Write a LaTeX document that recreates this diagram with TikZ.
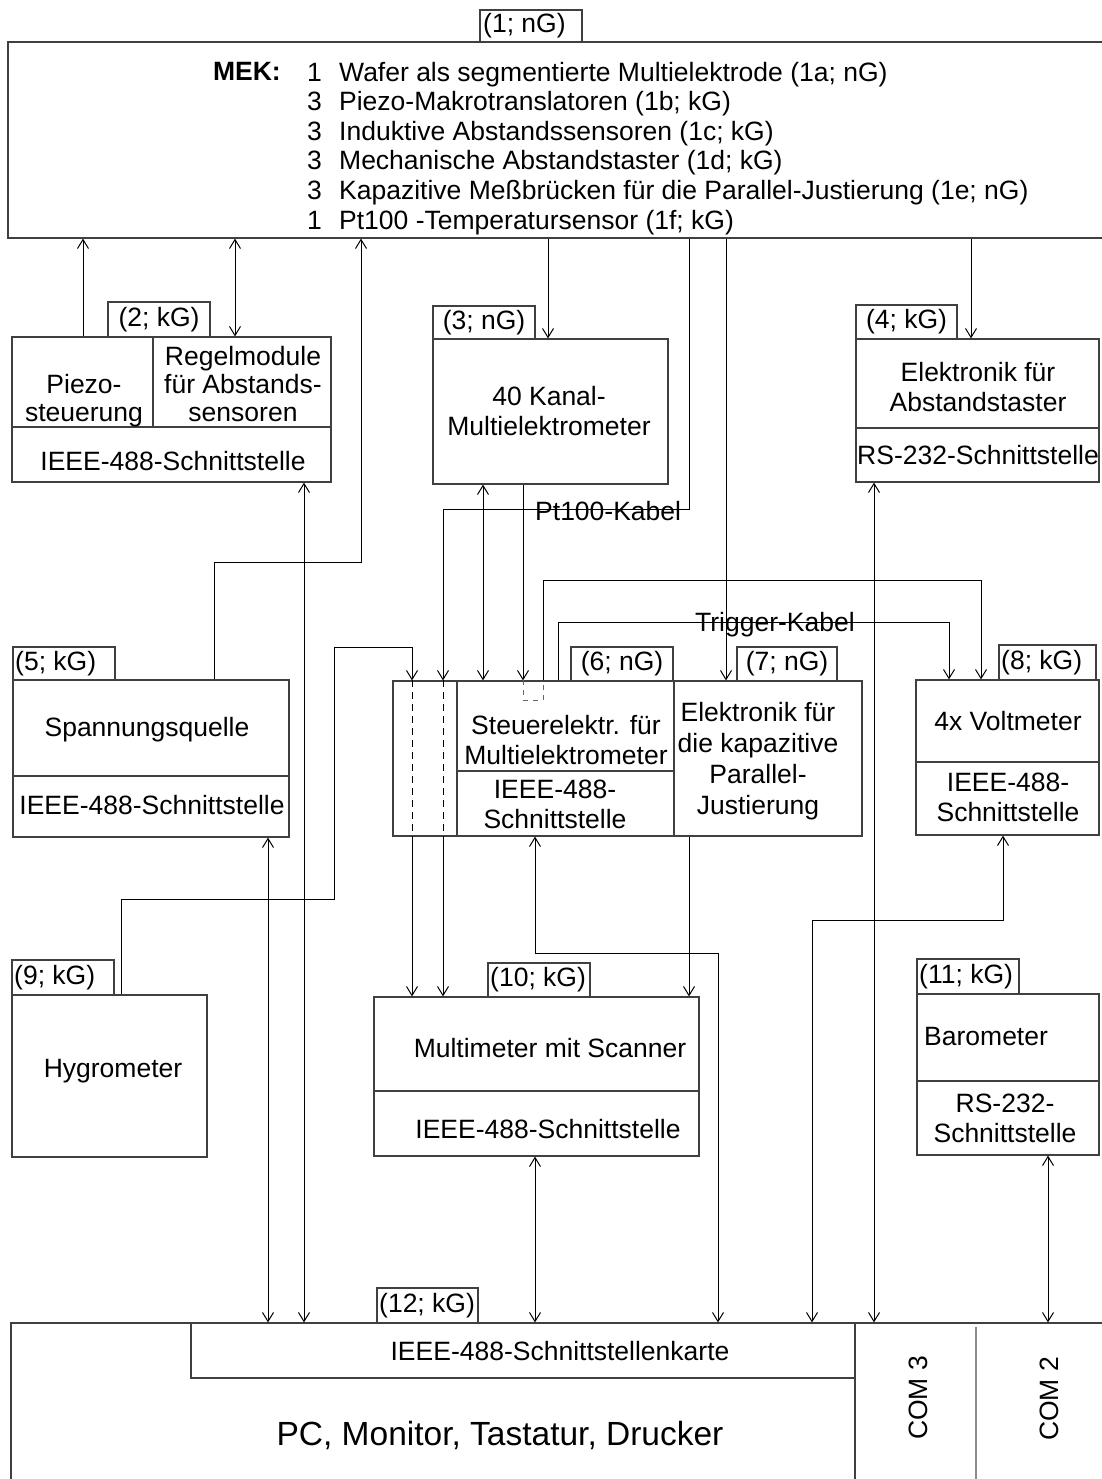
\documentclass[tikz,border=0pt]{standalone}
\usepackage{fontspec}
\setmainfont{Liberation Sans}
\usetikzlibrary{arrows.meta,fit}
\newcommand\fsz[1]{\fontsize{26.5}{#1}\selectfont}
\tikzset{
  boxst/.style={draw=black!75, line width=1.2pt, inner sep=0pt},
  txt/.style={font=\fsz{30}, inner sep=0pt},
  con/.style={line width=1pt, black},
  arr/.style={con, -{Straight Barb[length=9pt,width=11pt,line width=1pt]}},
  darr/.style={con, {Straight Barb[length=9pt,width=11pt,line width=1pt]}-{Straight Barb[length=9pt,width=11pt,line width=1pt]}},
  dsh/.style={con, dash pattern=on 7pt off 5pt},
  dshs/.style={line width=0.8pt, black!60, dash pattern=on 5pt off 5pt},
}
\begin{document}
\begin{tikzpicture}[x=1pt,y=-1pt]
\useasboundingbox (0,0) rectangle (1101,1479);

% ---------- boxes ----------
\node[boxst, fit={(8,42)(1103,238)}] (mek) {};
\node[boxst, fit={(480,10)(582,42)}] (lab1) {};
\node[boxst, fit={(12,337)(331,482)}] (b2) {};
\node[boxst, fit={(108,302)(210,337)}] (lab2) {};
\node[boxst, fit={(433,339)(668,484)}] (b3) {};
\node[boxst, fit={(433,306)(535,339)}] (lab3) {};
\node[boxst, fit={(856,339)(1099,482)}] (b4) {};
\node[boxst, fit={(856,305)(957,339)}] (lab4) {};
\node[boxst, fit={(13,680)(289,837)}] (b5) {};
\node[boxst, fit={(13,647)(115,680)}] (lab5) {};
\node[boxst, fit={(393,681)(862,836)}] (b6) {};
\node[boxst, fit={(571,647)(673,681)}] (lab6) {};
\node[boxst, fit={(737,647)(837,681)}] (lab7) {};
\node[boxst, fit={(916,680)(1099,835)}] (b8) {};
\node[boxst, fit={(999,645)(1096,680)}] (lab8) {};
\node[boxst, fit={(12,995)(207,1157)}] (b9) {};
\node[boxst, fit={(12,960)(114,995)}] (lab9) {};
\node[boxst, fit={(374,997)(699,1156)}] (b10) {};
\node[boxst, fit={(488,963)(590,997)}] (lab10) {};
\node[boxst, fit={(917,994)(1099,1155)}] (b11) {};
\node[boxst, fit={(917,959)(1019,994)}] (lab11) {};
\node[boxst, fit={(11,1323)(1103,1500)}] (pc) {};
\node[boxst, fit={(191,1323)(855,1378)}] (card) {};
\node[boxst, fit={(377,1288)(478,1323)}] (lab12) {};

% dividers
\draw[boxst] (153,337) -- (153,427);
\draw[boxst] (12,427) -- (331,427);
\draw[boxst] (856,428) -- (1099,428);
\draw[boxst] (13,776) -- (289,776);
\draw[boxst] (457,681) -- (457,836);
\draw[boxst] (674,681) -- (674,836);
\draw[boxst] (457,771) -- (674,771);
\draw[boxst] (916,762) -- (1099,762);
\draw[boxst] (374,1091) -- (699,1091);
\draw[boxst] (917,1081) -- (1099,1081);
\draw[boxst] (855,1378) -- (855,1500);
\draw[line width=1.2pt, black!45] (976,1327) -- (976,1500);

% ---------- labels ----------
\node[txt, anchor=base west] (lab1t) at (483,33) {(1; nG)};
\node[txt, anchor=base] (lab2t) at (159,326.4) {(2; kG)};
\node[txt, anchor=base] (lab3t) at (484,329.4) {(3; nG)};
\node[txt, anchor=base] (lab4t) at (906.5,328.9) {(4; kG)};
\node[txt, anchor=base west] (lab5t) at (15,670.4) {(5; kG)};
\node[txt, anchor=base] (lab6t) at (622,670.9) {(6; nG)};
\node[txt, anchor=base] (lab7t) at (787,670.9) {(7; nG)};
\node[txt, anchor=base west] (lab8t) at (1001,669.4) {(8; kG)};
\node[txt, anchor=base west] (lab9t) at (14,984.4) {(9; kG)};
\node[txt, anchor=base west] (lab10t) at (490,986.9) {(10; kG)};
\node[txt, anchor=base west] (lab11t) at (919,983.4) {(11; kG)};
\node[txt, anchor=base west] (lab12t) at (379,1312.4) {(12; kG)};

% ---------- texts ----------
\node[txt, anchor=base east, font=\fsz{30}\bfseries] (mekl) at (281,81) {MEK:};
\node[txt, anchor=north west, align=left, font=\fsz{29.6}] (mekt) at (307,60.28)
 {\strut\makebox[32pt][l]{1}Wafer als segmentierte Multielektrode (1a; nG)\\
  \strut\makebox[32pt][l]{3}Piezo-Makrotranslatoren (1b; kG)\\
  \strut\makebox[32pt][l]{3}Induktive Abstandssensoren (1c; kG)\\
  \strut\makebox[32pt][l]{3}Mechanische Abstandstaster (1d; kG)\\
  \strut\makebox[32pt][l]{3}Kapazitive Meßbrücken für die Parallel-Justierung (1e; nG)\\
  \strut\makebox[32pt][l]{1}Pt100 -Temperatursensor (1f; kG)};

\node[txt, anchor=north, align=center, font=\fsz{28}] (t2a) at (84,373.4) {\strut Piezo-\\\strut steuerung};
\node[txt, anchor=north, align=center, font=\fsz{28}] (t2b) at (243,345.4) {\strut Regelmodule\\\strut für Abstands-\\\strut sensoren};
\node[txt, anchor=base] (t2c) at (173,470) {IEEE-488-Schnittstelle};

\node[txt, anchor=north, align=center, font=\fsz{30}] (t3) at (549,384) {\strut 40 Kanal-\\\strut Multielektrometer};

\node[txt, anchor=north, align=center, font=\fsz{30}] (t4a) at (978,360) {\strut Elektronik für\\\strut Abstandstaster};
\node[txt, anchor=base] (t4b) at (978,464) {RS-232-Schnittstelle};

\node[txt, anchor=base] (t5a) at (147,736) {Spannungsquelle};
\node[txt, anchor=base] (t5b) at (152,814) {IEEE-488-Schnittstelle};

\node[txt, anchor=north, align=center, font=\fsz{30}] (t6a) at (566,713) {\strut Steuerelektr. für\\\strut Multielektrometer};
\node[txt, anchor=north, align=center, font=\fsz{30}] (t6b) at (555,777) {\strut IEEE-488-\\\strut Schnittstelle};
\node[txt, anchor=north, align=center, font=\fsz{31}] (t7) at (758,699.3) {\strut Elektronik für\\\strut die kapazitive\\\strut Parallel-\\\strut Justierung};

\node[txt, anchor=base] (t8a) at (1008,730) {4x Voltmeter};
\node[txt, anchor=north, align=center, font=\fsz{30}] (t8b) at (1008,770) {\strut IEEE-488-\\\strut Schnittstelle};

\node[txt, anchor=base] (t9) at (113,1077) {Hygrometer};
\node[txt, anchor=base] (t10a) at (550,1057) {Multimeter mit Scanner};
\node[txt, anchor=base] (t10b) at (548,1138) {IEEE-488-Schnittstelle};
\node[txt, anchor=base west] (t11a) at (924,1045) {Barometer};
\node[txt, anchor=north, align=center, font=\fsz{30}] (t11b) at (1005,1091) {\strut RS-232-\\\strut Schnittstelle};

\node[txt, anchor=base] (tcard) at (560,1360) {IEEE-488-Schnittstellenkarte};
\node[txt, anchor=base, font=\fontsize{33.5}{38}\selectfont] (tpc) at (500,1445) {PC, Monitor, Tastatur, Drucker};
\node[txt, anchor=base, rotate=90] (com3) at (927,1398) {COM 3};
\node[txt, anchor=base, rotate=90] (com2) at (1058,1399) {COM 2};

\node[txt, anchor=base west] (pt100) at (535,520) {Pt100-Kabel};
\node[txt, anchor=base west] (trig) at (695,631) {Trigger-Kabel};

% ---------- connectors ----------
\draw[arr] (b2.north -| 83,0) -- (mek.south -| 83,0);
\draw[darr] (mek.south -| 235,0) -- (b2.north -| 235,0);
\draw[arr] (b5.north -| 214,0) -- (214,562) -- (361,562) -- (mek.south -| 361,0);
\draw[arr] (mek.south -| 548,0) -- (b3.north -| 548,0);
\draw[arr] (mek.south -| 971,0) -- (b4.north -| 971,0);

% Pt100 cable
\draw[arr] (mek.south -| 689,0) -- (689,509) -- (443,509) -- (b6.north -| 443,0);
\draw[dsh] (b6.north -| 443,0) -- (b6.south -| 443,0);
\draw[arr] (b6.south -| 443,0) -- (b10.north -| 443,0);

% Hygrometer
\draw[arr] (b9.north -| 121,0) -- (121,899) -- (334,899) -- (334,647) -- (412,647) -- (b6.north -| 412,0);
\draw[dsh] (b6.north -| 412,0) -- (b6.south -| 412,0);
\draw[arr] (b6.south -| 412,0) -- (b10.north -| 412,0);

\draw[darr] (b3.south -| 483,0) -- (b6.north -| 483,0);
\draw[arr] (b3.south -| 523,0) -- (b6.north -| 523,0);
\draw[dshs] (b6.north -| 523,0) -- (523,700) -- (543,700) -- (b6.north -| 543,0);
\draw[arr] (b6.north -| 543,0) -- (543,580) -- (981,580) -- (b8.north -| 981,0);
\draw[arr] (b6.north -| 558,0) -- (558,622) -- (949,622) -- (b8.north -| 949,0);
\draw[arr] (mek.south -| 726,0) -- (b6.north -| 726,0);
\draw[arr] (b6.south -| 689,0) -- (b10.north -| 689,0);

\draw[darr] (b4.south -| 874,0) -- (pc.north -| 874,0);
\draw[darr] (b2.south -| 304,0) -- (pc.north -| 304,0);
\draw[darr] (b5.south -| 268,0) -- (pc.north -| 268,0);
\draw[darr] (b6.south -| 535,0) -- (535,953) -- (718,953) -- (pc.north -| 718,0);
\draw[darr] (b10.south -| 535,0) -- (pc.north -| 535,0);
\draw[darr] (b8.south -| 1003,0) -- (1003,920) -- (812,920) -- (pc.north -| 812,0);
\draw[darr] (b11.south -| 1048,0) -- (pc.north -| 1048,0);
\end{tikzpicture}
\end{document}
